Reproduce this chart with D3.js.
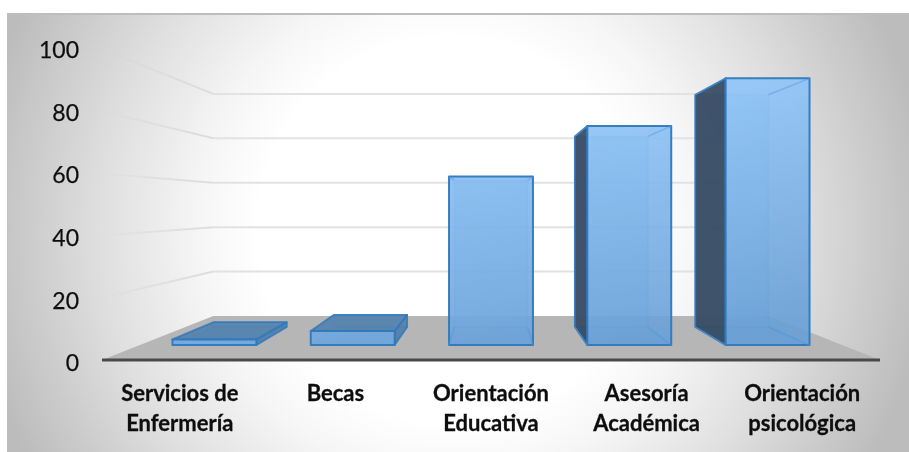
<!DOCTYPE html>
<html>
<head>
<meta charset="utf-8">
<script src="https://cdn.jsdelivr.net/npm/d3@7"></script>
<style>
  html, body { margin: 0; padding: 0; background: #fff; }
  svg { display: block; }
  text { font-family: Lato, "Open Sans", sans-serif; fill: #111; }
</style>
</head>
<body>
<div id="chart"></div>
<script>
const width = 909, height = 452;

// values
const categories = ["Servicios de Enfermería", "Becas", "Orientación Educativa", "Asesoría Académica", "Orientación psicológica"];
const labelLines = [["Servicios de", "Enfermería"], ["Becas"], ["Orientación", "Educativa"], ["Asesoría", "Académica"], ["Orientación", "psicológica"]];
const values = [2, 5, 60, 78, 95];
const yTicks = [0, 20, 40, 60, 80, 100];

const svg = d3.select("#chart").append("svg").attr("width", width).attr("height", height);
const defs = svg.append("defs");

// background
const bg = defs.append("radialGradient").attr("id", "bg").attr("gradientUnits", "userSpaceOnUse")
    .attr("cx", 450).attr("cy", 230).attr("r", 480);
bg.append("stop").attr("offset", "0.40").attr("stop-color", "#ffffff");
bg.append("stop").attr("offset", "0.52").attr("stop-color", "#f6f6f6");
bg.append("stop").attr("offset", "0.72").attr("stop-color", "#e0e0e0");
bg.append("stop").attr("offset", "1").attr("stop-color", "#bcbcbc");

const faceGrad = defs.append("linearGradient").attr("id", "face").attr("gradientUnits", "userSpaceOnUse")
    .attr("x1", 600).attr("y1", 78).attr("x2", 640).attr("y2", 345);
faceGrad.append("stop").attr("offset", 0).attr("stop-color", "#93c8fc");
faceGrad.append("stop").attr("offset", 1).attr("stop-color", "#689fd6");

const wallFade = defs.append("linearGradient").attr("id", "wallFade").attr("gradientUnits", "userSpaceOnUse")
    .attr("x1", 100).attr("x2", 215).attr("y1", 0).attr("y2", 0);
wallFade.append("stop").attr("offset", 0).attr("stop-color", "#cfcfcf").attr("stop-opacity", 0);
wallFade.append("stop").attr("offset", 1).attr("stop-color", "#dcdcdc");

defs.append("filter").attr("id", "soft").attr("x", "-5%").attr("y", "-5%").attr("width", "110%").attr("height", "110%")
    .append("feGaussianBlur").attr("stdDeviation", 0.7);
defs.append("filter").attr("id", "softText")
    .append("feGaussianBlur").attr("stdDeviation", 0.35);

svg.append("rect").attr("x", 7).attr("y", 14).attr("width", width - 7).attr("height", height - 14).attr("fill", "url(#bg)");
svg.append("rect").attr("x", 7).attr("y", 13).attr("width", width - 7).attr("height", 2).attr("fill", "#bdbdbd");

// perspective: depth goes from s=1 (front of floor) to s=0.714 (back wall)
const cx = 491, horizon = 206;
const frontS = 1, backS = 0.714, barFrontS = 0.9026, barBackS = 0.786;

const x = d3.scaleBand().domain(categories).range([-383, 383]).paddingInner(0.393).paddingOuter(0.1965);
const xLabel = d3.scaleBand().domain(categories).range([-389, 389]);
const y = d3.scaleLinear().domain([0, 100]).range([154, -157]);   // relative to the horizon, at s=1

const project = (xv, v, s) => [cx + xv * s, horizon + y(v) * s];
const poly = pts => pts.map(p => p.join(",")).join(" ");

const chart = svg.append("g").attr("filter", "url(#soft)");

// floor
chart.append("polygon")
    .attr("points", poly([project(-389, 0, frontS), project(-389, 0, backS), project(389, 0, backS), project(389, 0, frontS)]))
    .attr("fill", "#b6b6b6");

// back wall gridlines and their fading side-wall parts
yTicks.filter(t => t > 0).forEach(t => {
    const a = project(-389, t, frontS), b = project(-389, t, backS), c = project(389, t, backS);
    chart.append("line").attr("x1", b[0]).attr("y1", b[1]).attr("x2", c[0]).attr("y2", c[1])
        .attr("stroke", "#e2e2e2").attr("stroke-width", 2);
    chart.append("line").attr("x1", a[0]).attr("y1", a[1]).attr("x2", b[0]).attr("y2", b[1])
        .attr("stroke", "url(#wallFade)").attr("stroke-width", 2);
});

// axis line
const ax0 = project(-389, 0, frontS), ax1 = project(389, 0, frontS);
chart.append("line").attr("x1", ax0[0]).attr("y1", ax0[1]).attr("x2", ax1[0]).attr("y2", ax1[1])
    .attr("stroke", "#4a4a4a").attr("stroke-width", 3);

// bars, one transparent box each
const edge = "#2f79bd";
const bars = chart.selectAll(".bar").data(categories.map((c, i) => ({c, v: values[i]}))).join("g").attr("class", "bar");

bars.each(function (d) {
    const g = d3.select(this);
    const l = x(d.c), r = l + x.bandwidth();
    const f = (xv, v) => project(xv, v, barFrontS), b = (xv, v) => project(xv, v, barBackS);
    const face = (pts, fill, op, sw, sop) => g.append("polygon").attr("points", poly(pts))
        .attr("fill", fill).attr("fill-opacity", op)
        .attr("stroke", edge).attr("stroke-width", sw).attr("stroke-opacity", sop).attr("stroke-linejoin", "round");

    const leftVisible = b(l, 0)[0] < f(l, 0)[0];
    const rightVisible = b(r, 0)[0] > f(r, 0)[0];

    // back and floor of the box
    face([b(l, 0), b(r, 0), b(r, d.v), b(l, d.v)], "#7db4ea", 0.4, 1.5, 0.3);
    face([f(l, 0), b(l, 0), b(r, 0), f(r, 0)], "#5f9bd6", 0.4, 1.5, 0.25);
    // sides
    if (leftVisible) face([f(l, 0), b(l, 0), b(l, d.v), f(l, d.v)], "#33495f", 0.92, 1.8, 0.9);
    if (rightVisible) face([f(r, 0), b(r, 0), b(r, d.v), f(r, d.v)], "#4a78a5", 0.8, 1.8, 0.8);
    // top: seen from above only for the short bars
    if (b(l, d.v)[1] < f(l, d.v)[1]) face([f(l, d.v), b(l, d.v), b(r, d.v), f(r, d.v)], "#5482ad", 0.92, 1.8, 0.85);
    // front
    face([f(l, 0), f(r, 0), f(r, d.v), f(l, d.v)], "url(#face)", 0.9, 2, 0.95);
    // inner edges showing through the front
    if (d.v > 10) {
        [[f(l, d.v), b(l, d.v)], [f(r, d.v), b(r, d.v)], [f(l, 0), b(l, 0)], [f(r, 0), b(r, 0)]].forEach(p => {
            g.append("line").attr("x1", p[0][0]).attr("y1", p[0][1]).attr("x2", p[1][0]).attr("y2", p[1][1])
                .attr("stroke", "#4e97dc").attr("stroke-width", 1.5).attr("stroke-opacity", 0.45);
        });
    }
});

// y axis labels
const yLabel = d3.scaleLinear().domain([0, 100]).range([363.5, 50]);
const yAxis = svg.append("g").attr("transform", "translate(79,0)")
    .call(d3.axisLeft(yLabel).tickValues(yTicks).tickSize(0).tickPadding(0));
yAxis.select(".domain").remove();
yAxis.selectAll("text").attr("font-size", 23).style("font-family", "Lato, sans-serif")
    .attr("fill", "#111").attr("stroke", "#111").attr("stroke-width", 0.25).attr("filter", "url(#softText)");

// category labels
const labels = svg.selectAll(".cat").data(categories).join("text").attr("class", "cat")
    .attr("text-anchor", "middle").attr("font-size", 22).attr("font-weight", 700)
    .attr("stroke", "#111").attr("stroke-width", 0.3).attr("filter", "url(#softText)");
labels.each(function (c, i) {
    const px = cx + xLabel(c) + xLabel.bandwidth() / 2;
    d3.select(this).selectAll("tspan").data(labelLines[i]).join("tspan")
        .attr("x", px).attr("y", (l, j) => 400.5 + j * 30).text(l => l);
});
</script>
</body>
</html>
